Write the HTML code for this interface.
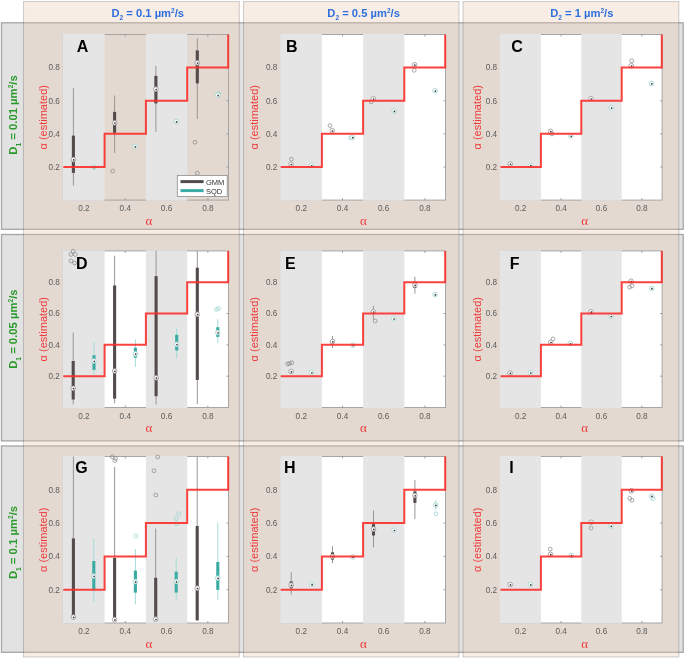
<!DOCTYPE html>
<html><head><meta charset="utf-8"><style>
html,body{margin:0;padding:0;background:#fff;}
svg{display:block;will-change:transform;}
text{font-family:"Liberation Sans",sans-serif;opacity:0.995;}
.tk{font-size:8.2px;fill:#5c5c5c;}
.xl{font-family:"Liberation Serif",serif;font-size:13px;fill:#f03a3a;}
.yl{font-size:11px;fill:#f03a3a;}
.pl{font-size:16px;font-weight:bold;fill:#000;}
.lg{font-size:7.5px;fill:#333;}
.hd{font-size:11.2px;font-weight:bold;fill:#2e6fde;}
.rl{font-size:11.3px;font-weight:bold;fill:#2a9a2a;}
.sub,.sup{font-size:6.6px;}
</style></head><body>
<svg width="685" height="659" viewBox="0 0 685 659">
<rect x="0" y="0" width="685" height="659" fill="#ffffff"/>
<rect x="1.5" y="22.8" width="681.7" height="206.5" fill="#e2e2e2" stroke="#a6a6a6" stroke-width="1.3"/>
<rect x="1.5" y="234.5" width="681.7" height="206.39999999999998" fill="#e2e2e2" stroke="#a6a6a6" stroke-width="1.3"/>
<rect x="1.5" y="446.0" width="681.7" height="206.29999999999995" fill="#e2e2e2" stroke="#a6a6a6" stroke-width="1.3"/>
<rect x="23.5" y="1.5" width="215.8" height="655.5" fill="#e5c5ab" fill-opacity="0.31" stroke="#000" stroke-opacity="0.17" stroke-width="1.1"/>
<rect x="243.5" y="1.5" width="215.5" height="655.5" fill="#e5c5ab" fill-opacity="0.31" stroke="#000" stroke-opacity="0.17" stroke-width="1.1"/>
<rect x="463.0" y="1.5" width="215.79999999999995" height="655.5" fill="#e5c5ab" fill-opacity="0.31" stroke="#000" stroke-opacity="0.17" stroke-width="1.1"/>
<rect x="63.3" y="34.5" width="165.2" height="165.6" fill="none" stroke="#a6a6a6" stroke-width="1"/>
<line x1="83.95" y1="200.1" x2="83.95" y2="198.1" stroke="#8a8a8a" stroke-width="0.8"/>
<line x1="83.95" y1="34.5" x2="83.95" y2="36.5" stroke="#8a8a8a" stroke-width="0.8"/>
<line x1="125.25" y1="200.1" x2="125.25" y2="198.1" stroke="#8a8a8a" stroke-width="0.8"/>
<line x1="125.25" y1="34.5" x2="125.25" y2="36.5" stroke="#8a8a8a" stroke-width="0.8"/>
<line x1="166.55" y1="200.1" x2="166.55" y2="198.1" stroke="#8a8a8a" stroke-width="0.8"/>
<line x1="166.55" y1="34.5" x2="166.55" y2="36.5" stroke="#8a8a8a" stroke-width="0.8"/>
<line x1="207.85" y1="200.1" x2="207.85" y2="198.1" stroke="#8a8a8a" stroke-width="0.8"/>
<line x1="207.85" y1="34.5" x2="207.85" y2="36.5" stroke="#8a8a8a" stroke-width="0.8"/>
<line x1="228.5" y1="166.98" x2="226.5" y2="166.98" stroke="#8a8a8a" stroke-width="0.8"/>
<line x1="63.3" y1="166.98" x2="65.3" y2="166.98" stroke="#8a8a8a" stroke-width="0.8"/>
<line x1="228.5" y1="133.86" x2="226.5" y2="133.86" stroke="#8a8a8a" stroke-width="0.8"/>
<line x1="63.3" y1="133.86" x2="65.3" y2="133.86" stroke="#8a8a8a" stroke-width="0.8"/>
<line x1="228.5" y1="100.74" x2="226.5" y2="100.74" stroke="#8a8a8a" stroke-width="0.8"/>
<line x1="63.3" y1="100.74" x2="65.3" y2="100.74" stroke="#8a8a8a" stroke-width="0.8"/>
<line x1="228.5" y1="67.62" x2="226.5" y2="67.62" stroke="#8a8a8a" stroke-width="0.8"/>
<line x1="63.3" y1="67.62" x2="65.3" y2="67.62" stroke="#8a8a8a" stroke-width="0.8"/>
<rect x="62.70" y="33.90" width="41.90" height="166.80" fill="#e5e5e5"/>
<rect x="145.90" y="33.90" width="41.30" height="166.80" fill="#e5e5e5"/>
<text x="83.95" y="211.40" class="tk" text-anchor="middle">0.2</text>
<text x="125.25" y="211.40" class="tk" text-anchor="middle">0.4</text>
<text x="166.55" y="211.40" class="tk" text-anchor="middle">0.6</text>
<text x="207.85" y="211.40" class="tk" text-anchor="middle">0.8</text>
<text x="59.90" y="169.78" class="tk" text-anchor="end">0.2</text>
<text x="59.90" y="136.66" class="tk" text-anchor="end">0.4</text>
<text x="59.90" y="103.54" class="tk" text-anchor="end">0.6</text>
<text x="59.90" y="70.42" class="tk" text-anchor="end">0.8</text>
<text x="148.90" y="224.60" class="xl" text-anchor="middle">α</text>
<text transform="translate(47.00,117.30) rotate(-90)" class="yl" text-anchor="middle">α (estimated)</text>
<line x1="73.4" y1="88.2" x2="73.4" y2="185.6" stroke="#9a9595" stroke-width="1"/>
<line x1="73.4" y1="135.6" x2="73.4" y2="172.9" stroke="#544b4b" stroke-width="3.1"/>
<line x1="114.6" y1="95.5" x2="114.6" y2="152.9" stroke="#9a9595" stroke-width="1"/>
<line x1="114.6" y1="111.9" x2="114.6" y2="132.8" stroke="#544b4b" stroke-width="3.1"/>
<line x1="155.9" y1="66" x2="155.9" y2="132" stroke="#9a9595" stroke-width="1"/>
<line x1="155.9" y1="75.9" x2="155.9" y2="103.4" stroke="#544b4b" stroke-width="3.1"/>
<line x1="197.3" y1="38.3" x2="197.3" y2="119" stroke="#9a9595" stroke-width="1"/>
<line x1="197.3" y1="50.4" x2="197.3" y2="83.4" stroke="#544b4b" stroke-width="3.1"/>
<circle cx="112.7" cy="171.1" r="1.9" fill="none" stroke="#8a8585" stroke-width="0.7"/>
<circle cx="195" cy="142.2" r="1.9" fill="none" stroke="#8a8585" stroke-width="0.7"/>
<circle cx="197.3" cy="173.2" r="1.9" fill="none" stroke="#8a8585" stroke-width="0.7"/>
<circle cx="218.6" cy="93.6" r="1.9" fill="none" stroke="#8fd0ca" stroke-width="0.7"/>
<circle cx="73.4" cy="159.6" r="2.35" fill="#fafafa" stroke="#9a9595" stroke-width="0.8"/>
<circle cx="73.7" cy="159.9" r="0.85" fill="#333"/>
<circle cx="94.0" cy="167.4" r="2.35" fill="#fafafa" stroke="#9fd6d0" stroke-width="0.8"/>
<circle cx="94.3" cy="167.70000000000002" r="0.85" fill="#333"/>
<circle cx="114.6" cy="122.8" r="2.35" fill="#fafafa" stroke="#9a9595" stroke-width="0.8"/>
<circle cx="114.89999999999999" cy="123.1" r="0.85" fill="#333"/>
<circle cx="135.0" cy="146.5" r="2.35" fill="#fafafa" stroke="#9fd6d0" stroke-width="0.8"/>
<circle cx="135.3" cy="146.8" r="0.85" fill="#333"/>
<circle cx="155.9" cy="89.2" r="2.35" fill="#fafafa" stroke="#9a9595" stroke-width="0.8"/>
<circle cx="156.20000000000002" cy="89.5" r="0.85" fill="#333"/>
<circle cx="176.3" cy="121.6" r="2.35" fill="#fafafa" stroke="#9fd6d0" stroke-width="0.8"/>
<circle cx="176.60000000000002" cy="121.89999999999999" r="0.85" fill="#333"/>
<circle cx="197.3" cy="62.8" r="2.35" fill="#fafafa" stroke="#9a9595" stroke-width="0.8"/>
<circle cx="197.60000000000002" cy="63.099999999999994" r="0.85" fill="#333"/>
<circle cx="217.8" cy="95.3" r="2.35" fill="#fafafa" stroke="#9fd6d0" stroke-width="0.8"/>
<circle cx="218.10000000000002" cy="95.6" r="0.85" fill="#333"/>
<path d="M63.3,166.98 H104.60 V133.86 H145.90 V100.74 H187.20 V67.62 H228.20 V34.5" fill="none" stroke="#fa2d2a" stroke-width="2" stroke-opacity="0.9"/>
<text x="76.7" y="51.9" class="pl">A</text>
<rect x="177.3" y="175.4" width="49.9" height="21" fill="#ffffff" stroke="#8c8c8c" stroke-width="0.8"/>
<line x1="180.5" y1="181.6" x2="203.6" y2="181.6" stroke="#544b4b" stroke-width="3"/>
<line x1="180.5" y1="190.6" x2="203.6" y2="190.6" stroke="#3aaca3" stroke-width="3"/>
<text x="206" y="184.6" class="lg">GMM</text>
<text x="206" y="193.9" class="lg">SQD</text>
<rect x="280.7" y="34.5" width="164.8" height="165.6" fill="#ffffff"/>
<rect x="280.7" y="34.5" width="164.8" height="165.6" fill="none" stroke="#a6a6a6" stroke-width="1"/>
<line x1="301.30" y1="200.1" x2="301.30" y2="198.1" stroke="#8a8a8a" stroke-width="0.8"/>
<line x1="301.30" y1="34.5" x2="301.30" y2="36.5" stroke="#8a8a8a" stroke-width="0.8"/>
<line x1="342.50" y1="200.1" x2="342.50" y2="198.1" stroke="#8a8a8a" stroke-width="0.8"/>
<line x1="342.50" y1="34.5" x2="342.50" y2="36.5" stroke="#8a8a8a" stroke-width="0.8"/>
<line x1="383.70" y1="200.1" x2="383.70" y2="198.1" stroke="#8a8a8a" stroke-width="0.8"/>
<line x1="383.70" y1="34.5" x2="383.70" y2="36.5" stroke="#8a8a8a" stroke-width="0.8"/>
<line x1="424.90" y1="200.1" x2="424.90" y2="198.1" stroke="#8a8a8a" stroke-width="0.8"/>
<line x1="424.90" y1="34.5" x2="424.90" y2="36.5" stroke="#8a8a8a" stroke-width="0.8"/>
<line x1="445.5" y1="166.98" x2="443.5" y2="166.98" stroke="#8a8a8a" stroke-width="0.8"/>
<line x1="280.7" y1="166.98" x2="282.7" y2="166.98" stroke="#8a8a8a" stroke-width="0.8"/>
<line x1="445.5" y1="133.86" x2="443.5" y2="133.86" stroke="#8a8a8a" stroke-width="0.8"/>
<line x1="280.7" y1="133.86" x2="282.7" y2="133.86" stroke="#8a8a8a" stroke-width="0.8"/>
<line x1="445.5" y1="100.74" x2="443.5" y2="100.74" stroke="#8a8a8a" stroke-width="0.8"/>
<line x1="280.7" y1="100.74" x2="282.7" y2="100.74" stroke="#8a8a8a" stroke-width="0.8"/>
<line x1="445.5" y1="67.62" x2="443.5" y2="67.62" stroke="#8a8a8a" stroke-width="0.8"/>
<line x1="280.7" y1="67.62" x2="282.7" y2="67.62" stroke="#8a8a8a" stroke-width="0.8"/>
<rect x="280.10" y="33.90" width="41.80" height="166.80" fill="#e5e5e5"/>
<rect x="363.10" y="33.90" width="41.20" height="166.80" fill="#e5e5e5"/>
<text x="301.30" y="211.40" class="tk" text-anchor="middle">0.2</text>
<text x="342.50" y="211.40" class="tk" text-anchor="middle">0.4</text>
<text x="383.70" y="211.40" class="tk" text-anchor="middle">0.6</text>
<text x="424.90" y="211.40" class="tk" text-anchor="middle">0.8</text>
<text x="277.30" y="169.78" class="tk" text-anchor="end">0.2</text>
<text x="277.30" y="136.66" class="tk" text-anchor="end">0.4</text>
<text x="277.30" y="103.54" class="tk" text-anchor="end">0.6</text>
<text x="277.30" y="70.42" class="tk" text-anchor="end">0.8</text>
<text x="363.50" y="224.60" class="xl" text-anchor="middle">α</text>
<text transform="translate(257.80,117.30) rotate(-90)" class="yl" text-anchor="middle">α (estimated)</text>
<circle cx="291.4" cy="159.2" r="1.9" fill="none" stroke="#8a8585" stroke-width="0.7"/>
<circle cx="330" cy="125.6" r="1.9" fill="none" stroke="#8a8585" stroke-width="0.7"/>
<circle cx="350.5" cy="138" r="1.9" fill="none" stroke="#8fd0ca" stroke-width="0.7"/>
<circle cx="371.2" cy="101.9" r="1.9" fill="none" stroke="#8a8585" stroke-width="0.7"/>
<circle cx="414.2" cy="70.3" r="1.9" fill="none" stroke="#8a8585" stroke-width="0.7"/>
<circle cx="291" cy="164.2" r="2.35" fill="#fafafa" stroke="#9a9595" stroke-width="0.8"/>
<circle cx="291.3" cy="164.5" r="0.85" fill="#333"/>
<circle cx="311.5" cy="165.5" r="2.35" fill="#fafafa" stroke="#9fd6d0" stroke-width="0.8"/>
<circle cx="311.8" cy="165.8" r="0.85" fill="#333"/>
<circle cx="332.2" cy="130.7" r="2.35" fill="#fafafa" stroke="#9a9595" stroke-width="0.8"/>
<circle cx="332.5" cy="131.0" r="0.85" fill="#333"/>
<circle cx="352.4" cy="137.4" r="2.35" fill="#fafafa" stroke="#9fd6d0" stroke-width="0.8"/>
<circle cx="352.7" cy="137.70000000000002" r="0.85" fill="#333"/>
<circle cx="373.3" cy="98.7" r="2.35" fill="#fafafa" stroke="#9a9595" stroke-width="0.8"/>
<circle cx="373.6" cy="99.0" r="0.85" fill="#333"/>
<circle cx="394.1" cy="111.1" r="2.35" fill="#fafafa" stroke="#9fd6d0" stroke-width="0.8"/>
<circle cx="394.40000000000003" cy="111.39999999999999" r="0.85" fill="#333"/>
<circle cx="414.5" cy="64.8" r="2.35" fill="#fafafa" stroke="#9a9595" stroke-width="0.8"/>
<circle cx="414.8" cy="65.1" r="0.85" fill="#333"/>
<circle cx="435.1" cy="90.8" r="2.35" fill="#fafafa" stroke="#9fd6d0" stroke-width="0.8"/>
<circle cx="435.40000000000003" cy="91.1" r="0.85" fill="#333"/>
<path d="M280.7,166.98 H321.90 V133.86 H363.10 V100.74 H404.30 V67.62 H445.20 V34.5" fill="none" stroke="#fa2d2a" stroke-width="2" stroke-opacity="0.9"/>
<text x="286" y="51.9" class="pl">B</text>
<rect x="500.5" y="34.5" width="161.60000000000002" height="165.6" fill="#ffffff"/>
<rect x="500.5" y="34.5" width="161.60000000000002" height="165.6" fill="none" stroke="#a6a6a6" stroke-width="1"/>
<line x1="520.70" y1="200.1" x2="520.70" y2="198.1" stroke="#8a8a8a" stroke-width="0.8"/>
<line x1="520.70" y1="34.5" x2="520.70" y2="36.5" stroke="#8a8a8a" stroke-width="0.8"/>
<line x1="561.10" y1="200.1" x2="561.10" y2="198.1" stroke="#8a8a8a" stroke-width="0.8"/>
<line x1="561.10" y1="34.5" x2="561.10" y2="36.5" stroke="#8a8a8a" stroke-width="0.8"/>
<line x1="601.50" y1="200.1" x2="601.50" y2="198.1" stroke="#8a8a8a" stroke-width="0.8"/>
<line x1="601.50" y1="34.5" x2="601.50" y2="36.5" stroke="#8a8a8a" stroke-width="0.8"/>
<line x1="641.90" y1="200.1" x2="641.90" y2="198.1" stroke="#8a8a8a" stroke-width="0.8"/>
<line x1="641.90" y1="34.5" x2="641.90" y2="36.5" stroke="#8a8a8a" stroke-width="0.8"/>
<line x1="662.1" y1="166.98" x2="660.1" y2="166.98" stroke="#8a8a8a" stroke-width="0.8"/>
<line x1="500.5" y1="166.98" x2="502.5" y2="166.98" stroke="#8a8a8a" stroke-width="0.8"/>
<line x1="662.1" y1="133.86" x2="660.1" y2="133.86" stroke="#8a8a8a" stroke-width="0.8"/>
<line x1="500.5" y1="133.86" x2="502.5" y2="133.86" stroke="#8a8a8a" stroke-width="0.8"/>
<line x1="662.1" y1="100.74" x2="660.1" y2="100.74" stroke="#8a8a8a" stroke-width="0.8"/>
<line x1="500.5" y1="100.74" x2="502.5" y2="100.74" stroke="#8a8a8a" stroke-width="0.8"/>
<line x1="662.1" y1="67.62" x2="660.1" y2="67.62" stroke="#8a8a8a" stroke-width="0.8"/>
<line x1="500.5" y1="67.62" x2="502.5" y2="67.62" stroke="#8a8a8a" stroke-width="0.8"/>
<rect x="499.90" y="33.90" width="41.00" height="166.80" fill="#e5e5e5"/>
<rect x="581.30" y="33.90" width="40.40" height="166.80" fill="#e5e5e5"/>
<text x="520.70" y="211.40" class="tk" text-anchor="middle">0.2</text>
<text x="561.10" y="211.40" class="tk" text-anchor="middle">0.4</text>
<text x="601.50" y="211.40" class="tk" text-anchor="middle">0.6</text>
<text x="641.90" y="211.40" class="tk" text-anchor="middle">0.8</text>
<text x="497.10" y="169.78" class="tk" text-anchor="end">0.2</text>
<text x="497.10" y="136.66" class="tk" text-anchor="end">0.4</text>
<text x="497.10" y="103.54" class="tk" text-anchor="end">0.6</text>
<text x="497.10" y="70.42" class="tk" text-anchor="end">0.8</text>
<text x="584.70" y="224.60" class="xl" text-anchor="middle">α</text>
<text transform="translate(480.80,117.30) rotate(-90)" class="yl" text-anchor="middle">α (estimated)</text>
<circle cx="552" cy="134" r="1.9" fill="none" stroke="#8a8585" stroke-width="0.7"/>
<circle cx="631.7" cy="60.7" r="1.9" fill="none" stroke="#8a8585" stroke-width="0.7"/>
<circle cx="510.2" cy="164" r="2.35" fill="#fafafa" stroke="#9a9595" stroke-width="0.8"/>
<circle cx="510.5" cy="164.3" r="0.85" fill="#333"/>
<circle cx="530.5" cy="165.4" r="2.35" fill="#fafafa" stroke="#9fd6d0" stroke-width="0.8"/>
<circle cx="530.8" cy="165.70000000000002" r="0.85" fill="#333"/>
<circle cx="550.5" cy="131.4" r="2.35" fill="#fafafa" stroke="#9a9595" stroke-width="0.8"/>
<circle cx="550.8" cy="131.70000000000002" r="0.85" fill="#333"/>
<circle cx="570.9" cy="136" r="2.35" fill="#fafafa" stroke="#9fd6d0" stroke-width="0.8"/>
<circle cx="571.1999999999999" cy="136.3" r="0.85" fill="#333"/>
<circle cx="591" cy="98.7" r="2.35" fill="#fafafa" stroke="#9a9595" stroke-width="0.8"/>
<circle cx="591.3" cy="99.0" r="0.85" fill="#333"/>
<circle cx="611.3" cy="107.8" r="2.35" fill="#fafafa" stroke="#9fd6d0" stroke-width="0.8"/>
<circle cx="611.5999999999999" cy="108.1" r="0.85" fill="#333"/>
<circle cx="631.3" cy="65.7" r="2.35" fill="#fafafa" stroke="#9a9595" stroke-width="0.8"/>
<circle cx="631.5999999999999" cy="66.0" r="0.85" fill="#333"/>
<circle cx="651.5" cy="83.5" r="2.35" fill="#fafafa" stroke="#9fd6d0" stroke-width="0.8"/>
<circle cx="651.8" cy="83.8" r="0.85" fill="#333"/>
<path d="M500.5,166.98 H540.90 V133.86 H581.30 V100.74 H621.70 V67.62 H661.80 V34.5" fill="none" stroke="#fa2d2a" stroke-width="2" stroke-opacity="0.9"/>
<text x="511.3" y="51.9" class="pl">C</text>
<rect x="63.3" y="250.9" width="165.2" height="156.6" fill="#ffffff"/>
<rect x="63.3" y="250.9" width="165.2" height="156.6" fill="none" stroke="#a6a6a6" stroke-width="1"/>
<line x1="83.95" y1="407.5" x2="83.95" y2="405.5" stroke="#8a8a8a" stroke-width="0.8"/>
<line x1="83.95" y1="250.9" x2="83.95" y2="252.9" stroke="#8a8a8a" stroke-width="0.8"/>
<line x1="125.25" y1="407.5" x2="125.25" y2="405.5" stroke="#8a8a8a" stroke-width="0.8"/>
<line x1="125.25" y1="250.9" x2="125.25" y2="252.9" stroke="#8a8a8a" stroke-width="0.8"/>
<line x1="166.55" y1="407.5" x2="166.55" y2="405.5" stroke="#8a8a8a" stroke-width="0.8"/>
<line x1="166.55" y1="250.9" x2="166.55" y2="252.9" stroke="#8a8a8a" stroke-width="0.8"/>
<line x1="207.85" y1="407.5" x2="207.85" y2="405.5" stroke="#8a8a8a" stroke-width="0.8"/>
<line x1="207.85" y1="250.9" x2="207.85" y2="252.9" stroke="#8a8a8a" stroke-width="0.8"/>
<line x1="228.5" y1="376.18" x2="226.5" y2="376.18" stroke="#8a8a8a" stroke-width="0.8"/>
<line x1="63.3" y1="376.18" x2="65.3" y2="376.18" stroke="#8a8a8a" stroke-width="0.8"/>
<line x1="228.5" y1="344.86" x2="226.5" y2="344.86" stroke="#8a8a8a" stroke-width="0.8"/>
<line x1="63.3" y1="344.86" x2="65.3" y2="344.86" stroke="#8a8a8a" stroke-width="0.8"/>
<line x1="228.5" y1="313.54" x2="226.5" y2="313.54" stroke="#8a8a8a" stroke-width="0.8"/>
<line x1="63.3" y1="313.54" x2="65.3" y2="313.54" stroke="#8a8a8a" stroke-width="0.8"/>
<line x1="228.5" y1="282.22" x2="226.5" y2="282.22" stroke="#8a8a8a" stroke-width="0.8"/>
<line x1="63.3" y1="282.22" x2="65.3" y2="282.22" stroke="#8a8a8a" stroke-width="0.8"/>
<rect x="62.70" y="250.30" width="41.90" height="157.80" fill="#e5e5e5"/>
<rect x="145.90" y="250.30" width="41.30" height="157.80" fill="#e5e5e5"/>
<text x="83.95" y="418.80" class="tk" text-anchor="middle">0.2</text>
<text x="125.25" y="418.80" class="tk" text-anchor="middle">0.4</text>
<text x="166.55" y="418.80" class="tk" text-anchor="middle">0.6</text>
<text x="207.85" y="418.80" class="tk" text-anchor="middle">0.8</text>
<text x="59.90" y="378.98" class="tk" text-anchor="end">0.2</text>
<text x="59.90" y="347.66" class="tk" text-anchor="end">0.4</text>
<text x="59.90" y="316.34" class="tk" text-anchor="end">0.6</text>
<text x="59.90" y="285.02" class="tk" text-anchor="end">0.8</text>
<text x="148.90" y="432.00" class="xl" text-anchor="middle">α</text>
<text transform="translate(47.00,329.20) rotate(-90)" class="yl" text-anchor="middle">α (estimated)</text>
<line x1="73.2" y1="332.6" x2="73.2" y2="404.4" stroke="#9a9595" stroke-width="1"/>
<line x1="73.2" y1="361" x2="73.2" y2="399.5" stroke="#544b4b" stroke-width="3.1"/>
<line x1="94" y1="341.9" x2="94" y2="375.3" stroke="#a6dcd7" stroke-width="1"/>
<line x1="94" y1="355.2" x2="94" y2="369.9" stroke="#3aaca3" stroke-width="3.1"/>
<line x1="114.6" y1="255.7" x2="114.6" y2="403.3" stroke="#9a9595" stroke-width="1"/>
<line x1="114.6" y1="285.5" x2="114.6" y2="398.6" stroke="#544b4b" stroke-width="3.1"/>
<line x1="135.4" y1="339.3" x2="135.4" y2="366.9" stroke="#a6dcd7" stroke-width="1"/>
<line x1="135.4" y1="347.7" x2="135.4" y2="357.7" stroke="#3aaca3" stroke-width="3.1"/>
<line x1="156.1" y1="250.8" x2="156.1" y2="404.5" stroke="#9a9595" stroke-width="1"/>
<line x1="156.1" y1="276.1" x2="156.1" y2="396.2" stroke="#544b4b" stroke-width="3.1"/>
<line x1="176.7" y1="327.6" x2="176.7" y2="358.5" stroke="#a6dcd7" stroke-width="1"/>
<line x1="176.7" y1="334.8" x2="176.7" y2="350.5" stroke="#3aaca3" stroke-width="3.1"/>
<line x1="197.3" y1="251" x2="197.3" y2="404.1" stroke="#9a9595" stroke-width="1"/>
<line x1="197.3" y1="267.7" x2="197.3" y2="379.9" stroke="#544b4b" stroke-width="3.1"/>
<line x1="217.8" y1="319.2" x2="217.8" y2="343.4" stroke="#a6dcd7" stroke-width="1"/>
<line x1="217.8" y1="327.2" x2="217.8" y2="336.9" stroke="#3aaca3" stroke-width="3.1"/>
<circle cx="73.1" cy="251.2" r="1.9" fill="none" stroke="#8a8585" stroke-width="0.7"/>
<circle cx="71" cy="254.5" r="1.9" fill="none" stroke="#8a8585" stroke-width="0.7"/>
<circle cx="75.3" cy="254.5" r="1.9" fill="none" stroke="#8a8585" stroke-width="0.7"/>
<circle cx="71" cy="261" r="1.9" fill="none" stroke="#8a8585" stroke-width="0.7"/>
<circle cx="74.6" cy="263" r="1.9" fill="none" stroke="#8a8585" stroke-width="0.7"/>
<circle cx="216.5" cy="309.5" r="1.9" fill="none" stroke="#8fd0ca" stroke-width="0.7"/>
<circle cx="218.5" cy="308.5" r="1.9" fill="none" stroke="#8fd0ca" stroke-width="0.7"/>
<circle cx="73.2" cy="388.3" r="2.35" fill="#fafafa" stroke="#9a9595" stroke-width="0.8"/>
<circle cx="73.5" cy="388.6" r="0.85" fill="#333"/>
<circle cx="94" cy="361" r="2.35" fill="#fafafa" stroke="#9fd6d0" stroke-width="0.8"/>
<circle cx="94.3" cy="361.3" r="0.85" fill="#333"/>
<circle cx="114.6" cy="371" r="2.35" fill="#fafafa" stroke="#9a9595" stroke-width="0.8"/>
<circle cx="114.89999999999999" cy="371.3" r="0.85" fill="#333"/>
<circle cx="135.4" cy="353.8" r="2.35" fill="#fafafa" stroke="#9fd6d0" stroke-width="0.8"/>
<circle cx="135.70000000000002" cy="354.1" r="0.85" fill="#333"/>
<circle cx="156.1" cy="377.8" r="2.35" fill="#fafafa" stroke="#9a9595" stroke-width="0.8"/>
<circle cx="156.4" cy="378.1" r="0.85" fill="#333"/>
<circle cx="176.7" cy="344.3" r="2.35" fill="#fafafa" stroke="#9fd6d0" stroke-width="0.8"/>
<circle cx="177.0" cy="344.6" r="0.85" fill="#333"/>
<circle cx="197.3" cy="314.3" r="2.35" fill="#fafafa" stroke="#9a9595" stroke-width="0.8"/>
<circle cx="197.60000000000002" cy="314.6" r="0.85" fill="#333"/>
<circle cx="217.8" cy="332.5" r="2.35" fill="#fafafa" stroke="#9fd6d0" stroke-width="0.8"/>
<circle cx="218.10000000000002" cy="332.8" r="0.85" fill="#333"/>
<path d="M63.3,376.18 H104.60 V344.86 H145.90 V313.54 H187.20 V282.22 H228.20 V250.9" fill="none" stroke="#fa2d2a" stroke-width="2" stroke-opacity="0.9"/>
<text x="75.9" y="268.5" class="pl">D</text>
<rect x="280.7" y="250.9" width="164.8" height="156.6" fill="#ffffff"/>
<rect x="280.7" y="250.9" width="164.8" height="156.6" fill="none" stroke="#a6a6a6" stroke-width="1"/>
<line x1="301.30" y1="407.5" x2="301.30" y2="405.5" stroke="#8a8a8a" stroke-width="0.8"/>
<line x1="301.30" y1="250.9" x2="301.30" y2="252.9" stroke="#8a8a8a" stroke-width="0.8"/>
<line x1="342.50" y1="407.5" x2="342.50" y2="405.5" stroke="#8a8a8a" stroke-width="0.8"/>
<line x1="342.50" y1="250.9" x2="342.50" y2="252.9" stroke="#8a8a8a" stroke-width="0.8"/>
<line x1="383.70" y1="407.5" x2="383.70" y2="405.5" stroke="#8a8a8a" stroke-width="0.8"/>
<line x1="383.70" y1="250.9" x2="383.70" y2="252.9" stroke="#8a8a8a" stroke-width="0.8"/>
<line x1="424.90" y1="407.5" x2="424.90" y2="405.5" stroke="#8a8a8a" stroke-width="0.8"/>
<line x1="424.90" y1="250.9" x2="424.90" y2="252.9" stroke="#8a8a8a" stroke-width="0.8"/>
<line x1="445.5" y1="376.18" x2="443.5" y2="376.18" stroke="#8a8a8a" stroke-width="0.8"/>
<line x1="280.7" y1="376.18" x2="282.7" y2="376.18" stroke="#8a8a8a" stroke-width="0.8"/>
<line x1="445.5" y1="344.86" x2="443.5" y2="344.86" stroke="#8a8a8a" stroke-width="0.8"/>
<line x1="280.7" y1="344.86" x2="282.7" y2="344.86" stroke="#8a8a8a" stroke-width="0.8"/>
<line x1="445.5" y1="313.54" x2="443.5" y2="313.54" stroke="#8a8a8a" stroke-width="0.8"/>
<line x1="280.7" y1="313.54" x2="282.7" y2="313.54" stroke="#8a8a8a" stroke-width="0.8"/>
<line x1="445.5" y1="282.22" x2="443.5" y2="282.22" stroke="#8a8a8a" stroke-width="0.8"/>
<line x1="280.7" y1="282.22" x2="282.7" y2="282.22" stroke="#8a8a8a" stroke-width="0.8"/>
<rect x="280.10" y="250.30" width="41.80" height="157.80" fill="#e5e5e5"/>
<rect x="363.10" y="250.30" width="41.20" height="157.80" fill="#e5e5e5"/>
<text x="301.30" y="418.80" class="tk" text-anchor="middle">0.2</text>
<text x="342.50" y="418.80" class="tk" text-anchor="middle">0.4</text>
<text x="383.70" y="418.80" class="tk" text-anchor="middle">0.6</text>
<text x="424.90" y="418.80" class="tk" text-anchor="middle">0.8</text>
<text x="277.30" y="378.98" class="tk" text-anchor="end">0.2</text>
<text x="277.30" y="347.66" class="tk" text-anchor="end">0.4</text>
<text x="277.30" y="316.34" class="tk" text-anchor="end">0.6</text>
<text x="277.30" y="285.02" class="tk" text-anchor="end">0.8</text>
<text x="363.50" y="432.00" class="xl" text-anchor="middle">α</text>
<text transform="translate(257.80,329.20) rotate(-90)" class="yl" text-anchor="middle">α (estimated)</text>
<line x1="332.5" y1="336" x2="332.5" y2="348" stroke="#9a9595" stroke-width="1"/>
<line x1="332.5" y1="340" x2="332.5" y2="343" stroke="#544b4b" stroke-width="3.1"/>
<line x1="373.4" y1="305.9" x2="373.4" y2="319.7" stroke="#9a9595" stroke-width="1"/>
<line x1="373.4" y1="310" x2="373.4" y2="313.5" stroke="#544b4b" stroke-width="3.1"/>
<line x1="414.9" y1="276.8" x2="414.9" y2="293.7" stroke="#9a9595" stroke-width="1"/>
<line x1="414.9" y1="282" x2="414.9" y2="288" stroke="#544b4b" stroke-width="3.1"/>
<circle cx="287.7" cy="364" r="1.9" fill="none" stroke="#8a8585" stroke-width="0.7"/>
<circle cx="291.8" cy="362.7" r="1.9" fill="none" stroke="#8a8585" stroke-width="0.7"/>
<circle cx="289.5" cy="363.5" r="1.9" fill="none" stroke="#8a8585" stroke-width="0.7"/>
<circle cx="375.2" cy="321" r="1.9" fill="none" stroke="#8a8585" stroke-width="0.7"/>
<circle cx="291.1" cy="371.5" r="2.35" fill="#fafafa" stroke="#9a9595" stroke-width="0.8"/>
<circle cx="291.40000000000003" cy="371.8" r="0.85" fill="#333"/>
<circle cx="311.6" cy="372.5" r="2.35" fill="#fafafa" stroke="#9fd6d0" stroke-width="0.8"/>
<circle cx="311.90000000000003" cy="372.8" r="0.85" fill="#333"/>
<circle cx="332.5" cy="341.5" r="2.35" fill="#fafafa" stroke="#9a9595" stroke-width="0.8"/>
<circle cx="332.8" cy="341.8" r="0.85" fill="#333"/>
<circle cx="352.9" cy="345.2" r="2.35" fill="#fafafa" stroke="#9fd6d0" stroke-width="0.8"/>
<circle cx="353.2" cy="345.5" r="0.85" fill="#333"/>
<circle cx="373.4" cy="311.8" r="2.35" fill="#fafafa" stroke="#9a9595" stroke-width="0.8"/>
<circle cx="373.7" cy="312.1" r="0.85" fill="#333"/>
<circle cx="393.8" cy="318.7" r="2.35" fill="#fafafa" stroke="#9fd6d0" stroke-width="0.8"/>
<circle cx="394.1" cy="319.0" r="0.85" fill="#333"/>
<circle cx="414.9" cy="285" r="2.35" fill="#fafafa" stroke="#9a9595" stroke-width="0.8"/>
<circle cx="415.2" cy="285.3" r="0.85" fill="#333"/>
<circle cx="435.1" cy="294.6" r="2.35" fill="#fafafa" stroke="#9fd6d0" stroke-width="0.8"/>
<circle cx="435.40000000000003" cy="294.90000000000003" r="0.85" fill="#333"/>
<path d="M280.7,376.18 H321.90 V344.86 H363.10 V313.54 H404.30 V282.22 H445.20 V250.9" fill="none" stroke="#fa2d2a" stroke-width="2" stroke-opacity="0.9"/>
<text x="284.9" y="268.5" class="pl">E</text>
<rect x="500.5" y="250.9" width="161.60000000000002" height="156.6" fill="#ffffff"/>
<rect x="500.5" y="250.9" width="161.60000000000002" height="156.6" fill="none" stroke="#a6a6a6" stroke-width="1"/>
<line x1="520.70" y1="407.5" x2="520.70" y2="405.5" stroke="#8a8a8a" stroke-width="0.8"/>
<line x1="520.70" y1="250.9" x2="520.70" y2="252.9" stroke="#8a8a8a" stroke-width="0.8"/>
<line x1="561.10" y1="407.5" x2="561.10" y2="405.5" stroke="#8a8a8a" stroke-width="0.8"/>
<line x1="561.10" y1="250.9" x2="561.10" y2="252.9" stroke="#8a8a8a" stroke-width="0.8"/>
<line x1="601.50" y1="407.5" x2="601.50" y2="405.5" stroke="#8a8a8a" stroke-width="0.8"/>
<line x1="601.50" y1="250.9" x2="601.50" y2="252.9" stroke="#8a8a8a" stroke-width="0.8"/>
<line x1="641.90" y1="407.5" x2="641.90" y2="405.5" stroke="#8a8a8a" stroke-width="0.8"/>
<line x1="641.90" y1="250.9" x2="641.90" y2="252.9" stroke="#8a8a8a" stroke-width="0.8"/>
<line x1="662.1" y1="376.18" x2="660.1" y2="376.18" stroke="#8a8a8a" stroke-width="0.8"/>
<line x1="500.5" y1="376.18" x2="502.5" y2="376.18" stroke="#8a8a8a" stroke-width="0.8"/>
<line x1="662.1" y1="344.86" x2="660.1" y2="344.86" stroke="#8a8a8a" stroke-width="0.8"/>
<line x1="500.5" y1="344.86" x2="502.5" y2="344.86" stroke="#8a8a8a" stroke-width="0.8"/>
<line x1="662.1" y1="313.54" x2="660.1" y2="313.54" stroke="#8a8a8a" stroke-width="0.8"/>
<line x1="500.5" y1="313.54" x2="502.5" y2="313.54" stroke="#8a8a8a" stroke-width="0.8"/>
<line x1="662.1" y1="282.22" x2="660.1" y2="282.22" stroke="#8a8a8a" stroke-width="0.8"/>
<line x1="500.5" y1="282.22" x2="502.5" y2="282.22" stroke="#8a8a8a" stroke-width="0.8"/>
<rect x="499.90" y="250.30" width="41.00" height="157.80" fill="#e5e5e5"/>
<rect x="581.30" y="250.30" width="40.40" height="157.80" fill="#e5e5e5"/>
<text x="520.70" y="418.80" class="tk" text-anchor="middle">0.2</text>
<text x="561.10" y="418.80" class="tk" text-anchor="middle">0.4</text>
<text x="601.50" y="418.80" class="tk" text-anchor="middle">0.6</text>
<text x="641.90" y="418.80" class="tk" text-anchor="middle">0.8</text>
<text x="497.10" y="378.98" class="tk" text-anchor="end">0.2</text>
<text x="497.10" y="347.66" class="tk" text-anchor="end">0.4</text>
<text x="497.10" y="316.34" class="tk" text-anchor="end">0.6</text>
<text x="497.10" y="285.02" class="tk" text-anchor="end">0.8</text>
<text x="584.70" y="432.00" class="xl" text-anchor="middle">α</text>
<text transform="translate(480.80,329.20) rotate(-90)" class="yl" text-anchor="middle">α (estimated)</text>
<circle cx="553" cy="338.9" r="1.9" fill="none" stroke="#8a8585" stroke-width="0.7"/>
<circle cx="629.6" cy="287.2" r="1.9" fill="none" stroke="#8a8585" stroke-width="0.7"/>
<circle cx="632" cy="286" r="1.9" fill="none" stroke="#8a8585" stroke-width="0.7"/>
<circle cx="510.1" cy="373.1" r="2.35" fill="#fafafa" stroke="#9a9595" stroke-width="0.8"/>
<circle cx="510.40000000000003" cy="373.40000000000003" r="0.85" fill="#333"/>
<circle cx="530.5" cy="372.8" r="2.35" fill="#fafafa" stroke="#9fd6d0" stroke-width="0.8"/>
<circle cx="530.8" cy="373.1" r="0.85" fill="#333"/>
<circle cx="550.7" cy="342.3" r="2.35" fill="#fafafa" stroke="#9a9595" stroke-width="0.8"/>
<circle cx="551.0" cy="342.6" r="0.85" fill="#333"/>
<circle cx="570.3" cy="343.5" r="2.35" fill="#fafafa" stroke="#9fd6d0" stroke-width="0.8"/>
<circle cx="570.5999999999999" cy="343.8" r="0.85" fill="#333"/>
<circle cx="591" cy="311.9" r="2.35" fill="#fafafa" stroke="#9a9595" stroke-width="0.8"/>
<circle cx="591.3" cy="312.2" r="0.85" fill="#333"/>
<circle cx="611" cy="316.2" r="2.35" fill="#fafafa" stroke="#9fd6d0" stroke-width="0.8"/>
<circle cx="611.3" cy="316.5" r="0.85" fill="#333"/>
<circle cx="631.1" cy="281.3" r="2.35" fill="#fafafa" stroke="#9a9595" stroke-width="0.8"/>
<circle cx="631.4" cy="281.6" r="0.85" fill="#333"/>
<circle cx="651.6" cy="288.4" r="2.35" fill="#fafafa" stroke="#9fd6d0" stroke-width="0.8"/>
<circle cx="651.9" cy="288.7" r="0.85" fill="#333"/>
<path d="M500.5,376.18 H540.90 V344.86 H581.30 V313.54 H621.70 V282.22 H661.80 V250.9" fill="none" stroke="#fa2d2a" stroke-width="2" stroke-opacity="0.9"/>
<text x="509.8" y="268.5" class="pl">F</text>
<rect x="63.3" y="456.5" width="165.2" height="166.5" fill="#ffffff"/>
<rect x="63.3" y="456.5" width="165.2" height="166.5" fill="none" stroke="#a6a6a6" stroke-width="1"/>
<line x1="83.95" y1="623.0" x2="83.95" y2="621.0" stroke="#8a8a8a" stroke-width="0.8"/>
<line x1="83.95" y1="456.5" x2="83.95" y2="458.5" stroke="#8a8a8a" stroke-width="0.8"/>
<line x1="125.25" y1="623.0" x2="125.25" y2="621.0" stroke="#8a8a8a" stroke-width="0.8"/>
<line x1="125.25" y1="456.5" x2="125.25" y2="458.5" stroke="#8a8a8a" stroke-width="0.8"/>
<line x1="166.55" y1="623.0" x2="166.55" y2="621.0" stroke="#8a8a8a" stroke-width="0.8"/>
<line x1="166.55" y1="456.5" x2="166.55" y2="458.5" stroke="#8a8a8a" stroke-width="0.8"/>
<line x1="207.85" y1="623.0" x2="207.85" y2="621.0" stroke="#8a8a8a" stroke-width="0.8"/>
<line x1="207.85" y1="456.5" x2="207.85" y2="458.5" stroke="#8a8a8a" stroke-width="0.8"/>
<line x1="228.5" y1="589.70" x2="226.5" y2="589.70" stroke="#8a8a8a" stroke-width="0.8"/>
<line x1="63.3" y1="589.70" x2="65.3" y2="589.70" stroke="#8a8a8a" stroke-width="0.8"/>
<line x1="228.5" y1="556.40" x2="226.5" y2="556.40" stroke="#8a8a8a" stroke-width="0.8"/>
<line x1="63.3" y1="556.40" x2="65.3" y2="556.40" stroke="#8a8a8a" stroke-width="0.8"/>
<line x1="228.5" y1="523.10" x2="226.5" y2="523.10" stroke="#8a8a8a" stroke-width="0.8"/>
<line x1="63.3" y1="523.10" x2="65.3" y2="523.10" stroke="#8a8a8a" stroke-width="0.8"/>
<line x1="228.5" y1="489.80" x2="226.5" y2="489.80" stroke="#8a8a8a" stroke-width="0.8"/>
<line x1="63.3" y1="489.80" x2="65.3" y2="489.80" stroke="#8a8a8a" stroke-width="0.8"/>
<rect x="62.70" y="455.90" width="41.90" height="167.70" fill="#e5e5e5"/>
<rect x="145.90" y="455.90" width="41.30" height="167.70" fill="#e5e5e5"/>
<text x="83.95" y="634.30" class="tk" text-anchor="middle">0.2</text>
<text x="125.25" y="634.30" class="tk" text-anchor="middle">0.4</text>
<text x="166.55" y="634.30" class="tk" text-anchor="middle">0.6</text>
<text x="207.85" y="634.30" class="tk" text-anchor="middle">0.8</text>
<text x="59.90" y="592.50" class="tk" text-anchor="end">0.2</text>
<text x="59.90" y="559.20" class="tk" text-anchor="end">0.4</text>
<text x="59.90" y="525.90" class="tk" text-anchor="end">0.6</text>
<text x="59.90" y="492.60" class="tk" text-anchor="end">0.8</text>
<text x="148.90" y="647.50" class="xl" text-anchor="middle">α</text>
<text transform="translate(47.00,539.75) rotate(-90)" class="yl" text-anchor="middle">α (estimated)</text>
<line x1="73.4" y1="456.5" x2="73.4" y2="620" stroke="#9a9595" stroke-width="1"/>
<line x1="73.4" y1="538.4" x2="73.4" y2="617" stroke="#544b4b" stroke-width="3.1"/>
<line x1="93.8" y1="538.4" x2="93.8" y2="602.2" stroke="#a6dcd7" stroke-width="1"/>
<line x1="93.8" y1="561" x2="93.8" y2="589.2" stroke="#3aaca3" stroke-width="3.1"/>
<line x1="114.6" y1="467" x2="114.6" y2="620" stroke="#9a9595" stroke-width="1"/>
<line x1="114.6" y1="558" x2="114.6" y2="618" stroke="#544b4b" stroke-width="3.1"/>
<line x1="135.4" y1="549" x2="135.4" y2="604.4" stroke="#a6dcd7" stroke-width="1"/>
<line x1="135.4" y1="570.6" x2="135.4" y2="592.6" stroke="#3aaca3" stroke-width="3.1"/>
<line x1="155.7" y1="528.5" x2="155.7" y2="620" stroke="#9a9595" stroke-width="1"/>
<line x1="155.7" y1="577.8" x2="155.7" y2="617" stroke="#544b4b" stroke-width="3.1"/>
<line x1="176.2" y1="557.9" x2="176.2" y2="600.2" stroke="#a6dcd7" stroke-width="1"/>
<line x1="176.2" y1="571.7" x2="176.2" y2="592.6" stroke="#3aaca3" stroke-width="3.1"/>
<line x1="197.2" y1="456.5" x2="197.2" y2="621" stroke="#9a9595" stroke-width="1"/>
<line x1="197.2" y1="526" x2="197.2" y2="620.3" stroke="#544b4b" stroke-width="3.1"/>
<line x1="217.8" y1="522.6" x2="217.8" y2="600.4" stroke="#a6dcd7" stroke-width="1"/>
<line x1="217.8" y1="562" x2="217.8" y2="589.9" stroke="#3aaca3" stroke-width="3.1"/>
<circle cx="112.3" cy="456.8" r="1.9" fill="none" stroke="#8a8585" stroke-width="0.7"/>
<circle cx="115.5" cy="458.4" r="1.9" fill="none" stroke="#8a8585" stroke-width="0.7"/>
<circle cx="114.8" cy="460.6" r="1.9" fill="none" stroke="#8a8585" stroke-width="0.7"/>
<circle cx="135.8" cy="536" r="1.9" fill="none" stroke="#8fd0ca" stroke-width="0.7"/>
<circle cx="157.7" cy="457" r="1.9" fill="none" stroke="#8a8585" stroke-width="0.7"/>
<circle cx="154" cy="470.7" r="1.9" fill="none" stroke="#8a8585" stroke-width="0.7"/>
<circle cx="155.8" cy="495" r="1.9" fill="none" stroke="#8a8585" stroke-width="0.7"/>
<circle cx="176.2" cy="518.6" r="1.9" fill="none" stroke="#8fd0ca" stroke-width="0.7"/>
<circle cx="178.7" cy="513.7" r="1.9" fill="none" stroke="#8fd0ca" stroke-width="0.7"/>
<circle cx="176.8" cy="523.7" r="1.9" fill="none" stroke="#8fd0ca" stroke-width="0.7"/>
<circle cx="73.4" cy="617" r="2.35" fill="#fafafa" stroke="#9a9595" stroke-width="0.8"/>
<circle cx="73.7" cy="617.3" r="0.85" fill="#333"/>
<circle cx="93.8" cy="576" r="2.35" fill="#fafafa" stroke="#9fd6d0" stroke-width="0.8"/>
<circle cx="94.1" cy="576.3" r="0.85" fill="#333"/>
<circle cx="114.6" cy="619.6" r="2.35" fill="#fafafa" stroke="#9a9595" stroke-width="0.8"/>
<circle cx="114.89999999999999" cy="619.9" r="0.85" fill="#333"/>
<circle cx="135.4" cy="581.6" r="2.35" fill="#fafafa" stroke="#9fd6d0" stroke-width="0.8"/>
<circle cx="135.70000000000002" cy="581.9" r="0.85" fill="#333"/>
<circle cx="155.7" cy="619.2" r="2.35" fill="#fafafa" stroke="#9a9595" stroke-width="0.8"/>
<circle cx="156.0" cy="619.5" r="0.85" fill="#333"/>
<circle cx="176.2" cy="581.6" r="2.35" fill="#fafafa" stroke="#9fd6d0" stroke-width="0.8"/>
<circle cx="176.5" cy="581.9" r="0.85" fill="#333"/>
<circle cx="197.2" cy="588.2" r="2.35" fill="#fafafa" stroke="#9a9595" stroke-width="0.8"/>
<circle cx="197.5" cy="588.5" r="0.85" fill="#333"/>
<circle cx="217.8" cy="578.1" r="2.35" fill="#fafafa" stroke="#9fd6d0" stroke-width="0.8"/>
<circle cx="218.10000000000002" cy="578.4" r="0.85" fill="#333"/>
<path d="M63.3,589.70 H104.60 V556.40 H145.90 V523.10 H187.20 V489.80 H228.20 V456.5" fill="none" stroke="#fa2d2a" stroke-width="2" stroke-opacity="0.9"/>
<text x="75.3" y="473" class="pl">G</text>
<rect x="280.7" y="456.5" width="164.8" height="166.5" fill="#ffffff"/>
<rect x="280.7" y="456.5" width="164.8" height="166.5" fill="none" stroke="#a6a6a6" stroke-width="1"/>
<line x1="301.30" y1="623.0" x2="301.30" y2="621.0" stroke="#8a8a8a" stroke-width="0.8"/>
<line x1="301.30" y1="456.5" x2="301.30" y2="458.5" stroke="#8a8a8a" stroke-width="0.8"/>
<line x1="342.50" y1="623.0" x2="342.50" y2="621.0" stroke="#8a8a8a" stroke-width="0.8"/>
<line x1="342.50" y1="456.5" x2="342.50" y2="458.5" stroke="#8a8a8a" stroke-width="0.8"/>
<line x1="383.70" y1="623.0" x2="383.70" y2="621.0" stroke="#8a8a8a" stroke-width="0.8"/>
<line x1="383.70" y1="456.5" x2="383.70" y2="458.5" stroke="#8a8a8a" stroke-width="0.8"/>
<line x1="424.90" y1="623.0" x2="424.90" y2="621.0" stroke="#8a8a8a" stroke-width="0.8"/>
<line x1="424.90" y1="456.5" x2="424.90" y2="458.5" stroke="#8a8a8a" stroke-width="0.8"/>
<line x1="445.5" y1="589.70" x2="443.5" y2="589.70" stroke="#8a8a8a" stroke-width="0.8"/>
<line x1="280.7" y1="589.70" x2="282.7" y2="589.70" stroke="#8a8a8a" stroke-width="0.8"/>
<line x1="445.5" y1="556.40" x2="443.5" y2="556.40" stroke="#8a8a8a" stroke-width="0.8"/>
<line x1="280.7" y1="556.40" x2="282.7" y2="556.40" stroke="#8a8a8a" stroke-width="0.8"/>
<line x1="445.5" y1="523.10" x2="443.5" y2="523.10" stroke="#8a8a8a" stroke-width="0.8"/>
<line x1="280.7" y1="523.10" x2="282.7" y2="523.10" stroke="#8a8a8a" stroke-width="0.8"/>
<line x1="445.5" y1="489.80" x2="443.5" y2="489.80" stroke="#8a8a8a" stroke-width="0.8"/>
<line x1="280.7" y1="489.80" x2="282.7" y2="489.80" stroke="#8a8a8a" stroke-width="0.8"/>
<rect x="280.10" y="455.90" width="41.80" height="167.70" fill="#e5e5e5"/>
<rect x="363.10" y="455.90" width="41.20" height="167.70" fill="#e5e5e5"/>
<text x="301.30" y="634.30" class="tk" text-anchor="middle">0.2</text>
<text x="342.50" y="634.30" class="tk" text-anchor="middle">0.4</text>
<text x="383.70" y="634.30" class="tk" text-anchor="middle">0.6</text>
<text x="424.90" y="634.30" class="tk" text-anchor="middle">0.8</text>
<text x="277.30" y="592.50" class="tk" text-anchor="end">0.2</text>
<text x="277.30" y="559.20" class="tk" text-anchor="end">0.4</text>
<text x="277.30" y="525.90" class="tk" text-anchor="end">0.6</text>
<text x="277.30" y="492.60" class="tk" text-anchor="end">0.8</text>
<text x="363.50" y="647.50" class="xl" text-anchor="middle">α</text>
<text transform="translate(257.80,539.75) rotate(-90)" class="yl" text-anchor="middle">α (estimated)</text>
<line x1="291.2" y1="572.3" x2="291.2" y2="594.6" stroke="#9a9595" stroke-width="1"/>
<line x1="291.2" y1="581.4" x2="291.2" y2="588.3" stroke="#544b4b" stroke-width="3.1"/>
<line x1="332.5" y1="546.2" x2="332.5" y2="563.2" stroke="#9a9595" stroke-width="1"/>
<line x1="332.5" y1="552.3" x2="332.5" y2="559.6" stroke="#544b4b" stroke-width="3.1"/>
<line x1="373.5" y1="510.5" x2="373.5" y2="547.4" stroke="#9a9595" stroke-width="1"/>
<line x1="373.5" y1="524.1" x2="373.5" y2="535.5" stroke="#544b4b" stroke-width="3.1"/>
<line x1="414.9" y1="480.1" x2="414.9" y2="519.1" stroke="#9a9595" stroke-width="1"/>
<line x1="414.9" y1="491.3" x2="414.9" y2="502.9" stroke="#544b4b" stroke-width="3.1"/>
<line x1="435.6" y1="500.3" x2="435.6" y2="509.9" stroke="#a6dcd7" stroke-width="1"/>
<line x1="435.6" y1="503" x2="435.6" y2="507" stroke="#3aaca3" stroke-width="3.1"/>
<circle cx="436" cy="513.8" r="1.9" fill="none" stroke="#8fd0ca" stroke-width="0.7"/>
<circle cx="291.2" cy="585.1" r="2.35" fill="#fafafa" stroke="#9a9595" stroke-width="0.8"/>
<circle cx="291.5" cy="585.4" r="0.85" fill="#333"/>
<circle cx="311.8" cy="584.4" r="2.35" fill="#fafafa" stroke="#9fd6d0" stroke-width="0.8"/>
<circle cx="312.1" cy="584.6999999999999" r="0.85" fill="#333"/>
<circle cx="332.5" cy="556.4" r="2.35" fill="#fafafa" stroke="#9a9595" stroke-width="0.8"/>
<circle cx="332.8" cy="556.6999999999999" r="0.85" fill="#333"/>
<circle cx="352.7" cy="556.9" r="2.35" fill="#fafafa" stroke="#9fd6d0" stroke-width="0.8"/>
<circle cx="353.0" cy="557.1999999999999" r="0.85" fill="#333"/>
<circle cx="373.5" cy="529.1" r="2.35" fill="#fafafa" stroke="#9a9595" stroke-width="0.8"/>
<circle cx="373.8" cy="529.4" r="0.85" fill="#333"/>
<circle cx="394.1" cy="530.2" r="2.35" fill="#fafafa" stroke="#9fd6d0" stroke-width="0.8"/>
<circle cx="394.40000000000003" cy="530.5" r="0.85" fill="#333"/>
<circle cx="414.9" cy="495.5" r="2.35" fill="#fafafa" stroke="#9a9595" stroke-width="0.8"/>
<circle cx="415.2" cy="495.8" r="0.85" fill="#333"/>
<circle cx="435.6" cy="505.1" r="2.35" fill="#fafafa" stroke="#9fd6d0" stroke-width="0.8"/>
<circle cx="435.90000000000003" cy="505.40000000000003" r="0.85" fill="#333"/>
<path d="M280.7,589.70 H321.90 V556.40 H363.10 V523.10 H404.30 V489.80 H445.20 V456.5" fill="none" stroke="#fa2d2a" stroke-width="2" stroke-opacity="0.9"/>
<text x="284" y="473" class="pl">H</text>
<rect x="500.5" y="456.5" width="161.60000000000002" height="166.5" fill="#ffffff"/>
<rect x="500.5" y="456.5" width="161.60000000000002" height="166.5" fill="none" stroke="#a6a6a6" stroke-width="1"/>
<line x1="520.70" y1="623.0" x2="520.70" y2="621.0" stroke="#8a8a8a" stroke-width="0.8"/>
<line x1="520.70" y1="456.5" x2="520.70" y2="458.5" stroke="#8a8a8a" stroke-width="0.8"/>
<line x1="561.10" y1="623.0" x2="561.10" y2="621.0" stroke="#8a8a8a" stroke-width="0.8"/>
<line x1="561.10" y1="456.5" x2="561.10" y2="458.5" stroke="#8a8a8a" stroke-width="0.8"/>
<line x1="601.50" y1="623.0" x2="601.50" y2="621.0" stroke="#8a8a8a" stroke-width="0.8"/>
<line x1="601.50" y1="456.5" x2="601.50" y2="458.5" stroke="#8a8a8a" stroke-width="0.8"/>
<line x1="641.90" y1="623.0" x2="641.90" y2="621.0" stroke="#8a8a8a" stroke-width="0.8"/>
<line x1="641.90" y1="456.5" x2="641.90" y2="458.5" stroke="#8a8a8a" stroke-width="0.8"/>
<line x1="662.1" y1="589.70" x2="660.1" y2="589.70" stroke="#8a8a8a" stroke-width="0.8"/>
<line x1="500.5" y1="589.70" x2="502.5" y2="589.70" stroke="#8a8a8a" stroke-width="0.8"/>
<line x1="662.1" y1="556.40" x2="660.1" y2="556.40" stroke="#8a8a8a" stroke-width="0.8"/>
<line x1="500.5" y1="556.40" x2="502.5" y2="556.40" stroke="#8a8a8a" stroke-width="0.8"/>
<line x1="662.1" y1="523.10" x2="660.1" y2="523.10" stroke="#8a8a8a" stroke-width="0.8"/>
<line x1="500.5" y1="523.10" x2="502.5" y2="523.10" stroke="#8a8a8a" stroke-width="0.8"/>
<line x1="662.1" y1="489.80" x2="660.1" y2="489.80" stroke="#8a8a8a" stroke-width="0.8"/>
<line x1="500.5" y1="489.80" x2="502.5" y2="489.80" stroke="#8a8a8a" stroke-width="0.8"/>
<rect x="499.90" y="455.90" width="41.00" height="167.70" fill="#e5e5e5"/>
<rect x="581.30" y="455.90" width="40.40" height="167.70" fill="#e5e5e5"/>
<text x="520.70" y="634.30" class="tk" text-anchor="middle">0.2</text>
<text x="561.10" y="634.30" class="tk" text-anchor="middle">0.4</text>
<text x="601.50" y="634.30" class="tk" text-anchor="middle">0.6</text>
<text x="641.90" y="634.30" class="tk" text-anchor="middle">0.8</text>
<text x="497.10" y="592.50" class="tk" text-anchor="end">0.2</text>
<text x="497.10" y="559.20" class="tk" text-anchor="end">0.4</text>
<text x="497.10" y="525.90" class="tk" text-anchor="end">0.6</text>
<text x="497.10" y="492.60" class="tk" text-anchor="end">0.8</text>
<text x="584.70" y="647.50" class="xl" text-anchor="middle">α</text>
<text transform="translate(480.80,539.75) rotate(-90)" class="yl" text-anchor="middle">α (estimated)</text>
<circle cx="550.2" cy="549.1" r="1.9" fill="none" stroke="#8a8585" stroke-width="0.7"/>
<circle cx="591.1" cy="528.1" r="1.9" fill="none" stroke="#8a8585" stroke-width="0.7"/>
<circle cx="629.8" cy="498.4" r="1.9" fill="none" stroke="#8a8585" stroke-width="0.7"/>
<circle cx="632" cy="500.3" r="1.9" fill="none" stroke="#8a8585" stroke-width="0.7"/>
<circle cx="653" cy="498.7" r="1.9" fill="none" stroke="#8fd0ca" stroke-width="0.7"/>
<circle cx="510.2" cy="584.6" r="2.35" fill="#fafafa" stroke="#9a9595" stroke-width="0.8"/>
<circle cx="510.5" cy="584.9" r="0.85" fill="#333"/>
<circle cx="530.5" cy="584.6" r="2.35" fill="#fafafa" stroke="#9fd6d0" stroke-width="0.8"/>
<circle cx="530.8" cy="584.9" r="0.85" fill="#333"/>
<circle cx="550.5" cy="554.4" r="2.35" fill="#fafafa" stroke="#9a9595" stroke-width="0.8"/>
<circle cx="550.8" cy="554.6999999999999" r="0.85" fill="#333"/>
<circle cx="571.2" cy="555.4" r="2.35" fill="#fafafa" stroke="#9fd6d0" stroke-width="0.8"/>
<circle cx="571.5" cy="555.6999999999999" r="0.85" fill="#333"/>
<circle cx="591.1" cy="522.3" r="2.35" fill="#fafafa" stroke="#9a9595" stroke-width="0.8"/>
<circle cx="591.4" cy="522.5999999999999" r="0.85" fill="#333"/>
<circle cx="611" cy="526" r="2.35" fill="#fafafa" stroke="#9fd6d0" stroke-width="0.8"/>
<circle cx="611.3" cy="526.3" r="0.85" fill="#333"/>
<circle cx="631.5" cy="490.8" r="2.35" fill="#fafafa" stroke="#9a9595" stroke-width="0.8"/>
<circle cx="631.8" cy="491.1" r="0.85" fill="#333"/>
<circle cx="651.6" cy="496.1" r="2.35" fill="#fafafa" stroke="#9fd6d0" stroke-width="0.8"/>
<circle cx="651.9" cy="496.40000000000003" r="0.85" fill="#333"/>
<path d="M500.5,589.70 H540.90 V556.40 H581.30 V523.10 H621.70 V489.80 H661.80 V456.5" fill="none" stroke="#fa2d2a" stroke-width="2" stroke-opacity="0.9"/>
<text x="509.2" y="473" class="pl">I</text>
<text x="147.80" y="16.6" class="hd" text-anchor="middle">D<tspan class="sub" dy="3.4">2</tspan><tspan dy="-3.4"> = 0.1 µm</tspan><tspan class="sup" dy="-4">2</tspan><tspan dy="4">/s</tspan></text>
<text x="363.60" y="16.6" class="hd" text-anchor="middle">D<tspan class="sub" dy="3.4">2</tspan><tspan dy="-3.4"> = 0.5 µm</tspan><tspan class="sup" dy="-4">2</tspan><tspan dy="4">/s</tspan></text>
<text x="581.80" y="16.6" class="hd" text-anchor="middle">D<tspan class="sub" dy="3.4">2</tspan><tspan dy="-3.4"> = 1 µm</tspan><tspan class="sup" dy="-4">2</tspan><tspan dy="4">/s</tspan></text>
<text transform="translate(17.3,115.00) rotate(-90)" class="rl" text-anchor="middle">D<tspan class="sub" dy="3.4">1</tspan><tspan dy="-3.4"> = 0.01 µm</tspan><tspan class="sup" dy="-4">2</tspan><tspan dy="4">/s</tspan></text>
<text transform="translate(17.3,329.10) rotate(-90)" class="rl" text-anchor="middle">D<tspan class="sub" dy="3.4">1</tspan><tspan dy="-3.4"> = 0.05 µm</tspan><tspan class="sup" dy="-4">2</tspan><tspan dy="4">/s</tspan></text>
<text transform="translate(17.3,542.50) rotate(-90)" class="rl" text-anchor="middle">D<tspan class="sub" dy="3.4">1</tspan><tspan dy="-3.4"> = 0.1 µm</tspan><tspan class="sup" dy="-4">2</tspan><tspan dy="4">/s</tspan></text>
</svg>
</body></html>
